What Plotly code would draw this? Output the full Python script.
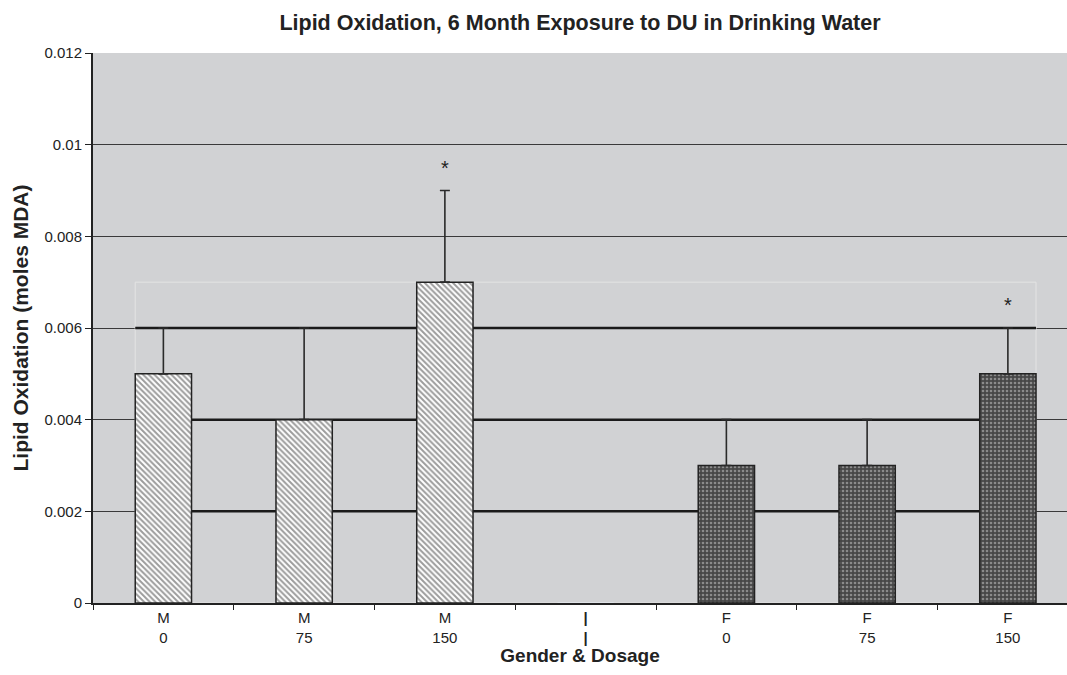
import plotly.graph_objects as go

# ---- data ----
categories = ["M<br>0", "M<br>75", "M<br>150", "<b>|</b><br><b>|</b>", "F<br>0", "F<br>75", "F<br>150"]
male_cats = categories[0:3]
female_cats = categories[4:7]
male_means = [0.005, 0.004, 0.007]
male_err = [0.001, 0.002, 0.002]
female_means = [0.003, 0.003, 0.005]
female_err = [0.001, 0.001, 0.001]
star_cats = ["M<br>150", "F<br>150"]
star_y = [0.0095, 0.0065]
y_ticks = [0, 0.002, 0.004, 0.006, 0.008, 0.01, 0.012]
y_ticklabels = ["0", "0.002", "0.004", "0.006", "0.008", "0.01", "0.012"]
inner_lines = [0.002, 0.004, 0.006]
inner_box_top = 0.007

FONT = "Liberation Sans, Arial, sans-serif"
BARW = 0.4

fig = go.Figure()
fig.add_trace(go.Bar(
    x=male_cats, y=male_means, width=BARW,
    marker=dict(color="white", line=dict(color="#222", width=1.5),
                pattern=dict(shape="\\", fgcolor="#3a3a3a", bgcolor="white", size=4, solidity=0.5)),
    error_y=dict(type="data", array=male_err, arrayminus=[0, 0, 0], symmetric=False,
                 color="#2a2a2a", thickness=1.6, width=5),
    showlegend=False, hoverinfo="skip"))
fig.add_trace(go.Bar(
    x=[categories[3]], y=[0], width=BARW, marker=dict(color="rgba(0,0,0,0)"),
    showlegend=False, hoverinfo="skip"))
fig.add_trace(go.Bar(
    x=female_cats, y=female_means, width=BARW,
    marker=dict(color="#4a4a4a", line=dict(color="#222", width=1.5),
                pattern=dict(shape=".", fgcolor="#d0d0d0", bgcolor="#474747", size=4, solidity=0.35)),
    error_y=dict(type="data", array=female_err, arrayminus=[0, 0, 0], symmetric=False,
                 color="#2a2a2a", thickness=1.6, width=5),
    showlegend=False, hoverinfo="skip"))

# inner (lighter) box and thick black lines
fig.add_shape(type="rect", xref="x", yref="y", x0=-BARW / 2, x1=6 + BARW / 2, y0=0, y1=inner_box_top,
              line=dict(color="#e4e4e4", width=1), layer="between")
for yv in inner_lines:
    fig.add_shape(type="line", xref="x", yref="y", x0=-BARW / 2, x1=6 + BARW / 2, y0=yv, y1=yv,
                  line=dict(color="#1a1a1a", width=2.5), layer="between")

for c, yv in zip(star_cats, star_y):
    fig.add_annotation(x=c, y=yv, text="*", showarrow=False,
                       font=dict(family=FONT, size=20, color="#222"))

fig.update_layout(
    width=1067, height=675,
    margin=dict(l=93, r=0, t=53, b=72),
    paper_bgcolor="white", plot_bgcolor="#d1d2d4",
    barmode="overlay",
    font=dict(family=FONT, size=15, color="#222"),
    title=dict(text="<b>Lipid Oxidation, 6 Month Exposure to DU in Drinking Water</b>",
               x=(93 + 1067) / 2 / 1067, xref="container", xanchor="center",
               y=1 - 22 / 675, yref="container", yanchor="middle",
               font=dict(family=FONT, size=21.5, color="#222")),
)
fig.update_xaxes(
    type="category", categoryorder="array", categoryarray=categories,
    range=[-0.5, 6.42], tickson="boundaries", ticks="outside", ticklen=5, tickcolor="#222",
    showline=True, linecolor="#222", linewidth=2, showgrid=False,
    tickfont=dict(family=FONT, size=15, color="#222"),
    title=dict(text="<b>Gender & Dosage</b>", standoff=2, font=dict(family=FONT, size=19, color="#222")),
)
fig.update_yaxes(
    range=[0, 0.012], tickvals=y_ticks, ticktext=y_ticklabels,
    ticks="outside", ticklen=6, tickcolor="#222",
    showline=True, linecolor="#222", linewidth=2,
    showgrid=True, gridcolor="#3a3a3a", gridwidth=1, zeroline=False,
    tickfont=dict(family=FONT, size=15, color="#222"),
    title=dict(text="<b>Lipid Oxidation (moles MDA)</b>", standoff=10, font=dict(family=FONT, size=21, color="#222")),
)

fig.write_html("out.html")
